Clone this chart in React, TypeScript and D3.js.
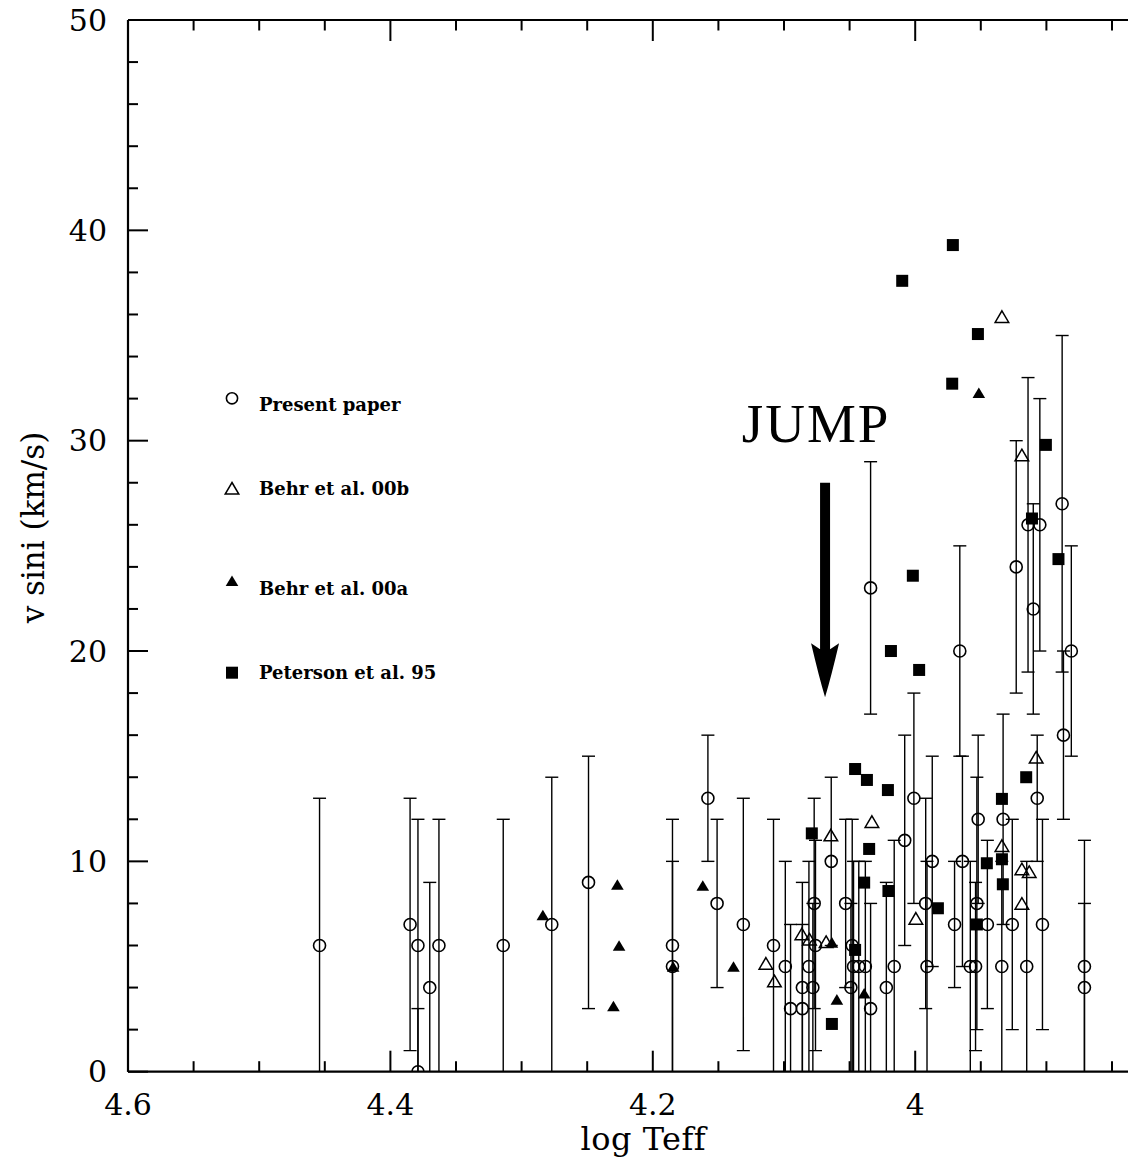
import React from "react";
import * as d3 from "d3";

// ---------- data ----------
// Present paper: log Teff, v sini, symmetric error (km/s)
const presentTeff = [4.454, 4.385, 4.379, 4.379, 4.370, 4.363, 4.314, 4.277, 4.249, 4.185, 4.185, 4.158, 4.151, 4.131, 4.108, 4.099, 4.095, 4.086, 4.086, 4.081, 4.078, 4.077, 4.076, 4.064, 4.053, 4.048, 4.049, 4.047, 4.043, 4.038, 4.034, 4.034, 4.022, 4.016, 4.008, 4.001, 3.992, 3.991, 3.987, 3.970, 3.966, 3.964, 3.958, 3.954, 3.953, 3.952, 3.945, 3.934, 3.933, 3.926, 3.923, 3.915, 3.914, 3.910, 3.907, 3.905, 3.903, 3.888, 3.887, 3.881, 3.871, 3.871];
const presentVsini = [6, 7, 6, 0, 4, 6, 6, 7, 9, 6, 5, 13, 8, 7, 6, 5, 3, 4, 3, 5, 4, 8, 6, 10, 8, 6, 4, 5, 5, 5, 23, 3, 4, 5, 11, 13, 8, 5, 10, 7, 20, 10, 5, 5, 8, 12, 7, 5, 12, 7, 24, 5, 26, 22, 13, 26, 7, 27, 16, 20, 5, 4];
const presentErr = [7, 6, 6, 3, 5, 6, 6, 7, 6, 6, 5, 3, 4, 6, 6, 5, 4, 5, 4, 5, 4, 5, 5, 4, 4, 6, 4, 5, 5, 5, 6, 5, 5, 6, 5, 5, 5, 5, 5, 3, 5, 5, 5, 4, 6, 4, 4, 5, 5, 5, 6, 5, 7, 5, 3, 6, 5, 8, 4, 5, 6, 4];

// Behr et al. 00b (open triangles)
const behrBTeff = [4.1138, 4.1073, 4.0864, 4.0806, 4.0643, 4.0679, 4.0330, 3.9995, 3.9339, 3.9187, 3.9339, 3.9187, 3.9131, 3.9187, 3.9078];
const behrBVsini = [5.15, 4.31, 6.55, 6.3, 11.25, 6.18, 11.89, 7.29, 35.9, 29.32, 10.75, 9.64, 9.51, 8.0, 14.95];

// Behr et al. 00a (filled triangles)
const behrATeff = [4.2838, 4.2270, 4.2257, 4.2300, 4.1845, 4.1619, 4.1385, 4.0635, 4.0597, 4.0389, 3.9515];
const behrAVsini = [7.45, 8.9, 6.0, 3.12, 5.0, 8.85, 5.0, 6.15, 3.44, 3.73, 32.28];

// Peterson et al. 95 (filled squares)
const petersonTeff = [3.9713, 4.0099, 3.9522, 3.9718, 3.9004, 3.9110, 3.8908, 4.0018, 4.0185, 3.9970, 4.0458, 4.0368, 4.0208, 4.0351, 4.0389, 4.0204, 3.9827, 3.9530, 3.9454, 3.9339, 3.9339, 3.9332, 3.9154, 4.0788, 4.0635, 4.0458];
const petersonVsini = [39.3, 37.6, 35.07, 32.71, 29.8, 26.3, 24.37, 23.58, 20.0, 19.1, 14.39, 13.87, 13.39, 10.59, 8.99, 8.59, 7.77, 7.0, 9.91, 12.97, 10.1, 8.91, 14.0, 11.33, 2.27, 5.79];

const xMajorTicks = [4.6, 4.4, 4.2, 4.0];
const xTickLabels = ["4.6", "4.4", "4.2", "4"];
const yMajorTicks = [0, 10, 20, 30, 40, 50];
const yTickLabels = ["0", "10", "20", "30", "40", "50"];

const legendLabels = ["Present paper", "Behr et al. 00b", "Behr et al. 00a", "Peterson et al. 95"];

// JUMP annotation (data coordinates)
const jumpText = "JUMP";
const jumpX = 4.0755;
const jumpY = 29.94;
const arrowX = 4.0687;
const arrowTop = 28.0;
const arrowTip = 17.8;

// ---------- layout ----------
const W = 1128;
const H = 1161;
const LEFT = 128;
const TOP = 20;
const BOTTOM = 1071.7;
const RIGHT = 1177.6;

const serif = "'DejaVu Serif', serif";

export default function App() {
  const x = d3.scaleLinear().domain([4.6, 3.8]).range([LEFT, RIGHT]);
  const y = d3.scaleLinear().domain([0, 50]).range([BOTTOM, TOP]);

  const xMinor = d3.range(0, 17).map((i) => +(4.6 - 0.05 * i).toFixed(2));
  const yMinor = d3.range(0, 26).map((i) => i * 2);

  const present = presentTeff.map((t, i) => ({ t, v: presentVsini[i], e: presentErr[i] }));
  const behrB = behrBTeff.map((t, i) => ({ t, v: behrBVsini[i] }));
  const behrA = behrATeff.map((t, i) => ({ t, v: behrAVsini[i] }));
  const peterson = petersonTeff.map((t, i) => ({ t, v: petersonVsini[i] }));

  const ink = "#000";
  const cap = 6.5;
  const openTri = "M0,-5.8L6.8,5.8L-6.8,5.8Z";
  const fillTri = "M0,-5.3L6.3,5.3L-6.3,5.3Z";
  const sq = 6;

  const ax = x(arrowX);
  const aTop = y(arrowTop);
  const aTip = y(arrowTip);
  const headLen = 54;
  const headHalf = 14;
  const shaftHalf = 5;

  const legendX = 232;
  const legendTextX = 259;
  const legendMarkerY = [398.3, 488.3, 580.7, 672.7];
  const legendTextY = [410.7, 495, 595, 679.3];

  return (
    <div style={{ position: "absolute", left: 0, top: 0 }}>
      <svg width={W} height={H} viewBox={`0 0 ${W} ${H}`} style={{ display: "block", background: "#fff" }}>
        <defs>
          <clipPath id="plotClip">
            <rect x={LEFT} y={TOP} width={RIGHT - LEFT} height={BOTTOM - TOP} />
          </clipPath>
        </defs>
        <rect x={0} y={0} width={W} height={H} fill="#fff" />

        {/* axes frame */}
        <g stroke={ink} strokeWidth={2.2} fill="none">
          <line x1={LEFT} y1={BOTTOM} x2={W} y2={BOTTOM} />
          <line x1={LEFT} y1={TOP} x2={W} y2={TOP} />
          <line x1={LEFT} y1={TOP} x2={LEFT} y2={BOTTOM} />
        </g>

        {/* ticks */}
        <g stroke={ink} strokeWidth={2}>
          {xMinor.map((v, i) => {
            const len = i % 4 === 0 ? 21 : 10.5;
            const px = x(v);
            return (
              <g key={"xt" + i}>
                <line x1={px} y1={BOTTOM} x2={px} y2={BOTTOM - len} />
                <line x1={px} y1={TOP} x2={px} y2={TOP + len} />
              </g>
            );
          })}
          {yMinor.map((v, i) => {
            const len = i % 5 === 0 ? 20 : 10;
            const py = y(v);
            return <line key={"yt" + i} x1={LEFT} y1={py} x2={LEFT + len} y2={py} />;
          })}
        </g>

        {/* tick labels */}
        <g fontFamily={serif} fontSize={30} fill={ink}>
          {xMajorTicks.map((v, i) => (
            <text key={"xl" + i} x={x(v)} y={1115} textAnchor="middle">
              {xTickLabels[i]}
            </text>
          ))}
          {yMajorTicks.map((v, i) => (
            <text key={"yl" + i} x={107} y={y(v)} textAnchor="end" dominantBaseline="central">
              {yTickLabels[i]}
            </text>
          ))}
        </g>

        {/* axis titles */}
        <text x={643.3} y={1150} textAnchor="middle" fontFamily={serif} fontSize={32} letterSpacing={0.5} fill={ink}>
          log Teff
        </text>
        <text
          transform={`translate(43.5,527.5) rotate(-90)`}
          textAnchor="middle"
          fontFamily={serif}
          fontSize={31}
          fill={ink}
        >
          v sini (km/s)
        </text>

        {/* data */}
        <g clipPath="url(#plotClip)">
          <g stroke={ink} strokeWidth={1.4} fill="none">
            {present.map((d, i) => {
              const px = x(d.t);
              const y1 = y(d.v - d.e);
              const y2 = y(d.v + d.e);
              return (
                <g key={"eb" + i}>
                  <line x1={px} y1={y1} x2={px} y2={y2} />
                  <line x1={px - cap} y1={y1} x2={px + cap} y2={y1} />
                  <line x1={px - cap} y1={y2} x2={px + cap} y2={y2} />
                </g>
              );
            })}
          </g>
          <g stroke={ink} strokeWidth={1.6} fill="none">
            {present.map((d, i) => (
              <circle key={"c" + i} cx={x(d.t)} cy={y(d.v)} r={6} />
            ))}
          </g>
          <g stroke={ink} strokeWidth={1.5} fill="none">
            {behrB.map((d, i) => (
              <path key={"ob" + i} d={openTri} transform={`translate(${x(d.t)},${y(d.v)})`} />
            ))}
          </g>
          <g fill={ink}>
            {behrA.map((d, i) => (
              <path key={"fa" + i} d={fillTri} transform={`translate(${x(d.t)},${y(d.v)})`} />
            ))}
          </g>
          <g fill={ink}>
            {peterson.map((d, i) => (
              <rect key={"sq" + i} x={x(d.t) - sq} y={y(d.v) - sq} width={sq * 2} height={sq * 2} />
            ))}
          </g>
        </g>

        {/* JUMP annotation */}
        <text
          x={x(jumpX)}
          y={y(jumpY)}
          textAnchor="middle"
          fontFamily="'Liberation Serif', serif"
          fontSize={55}
          letterSpacing={2}
          fill={ink}
        >
          {jumpText}
        </text>
        <path
          d={`M${ax - shaftHalf},${aTop} L${ax + shaftHalf},${aTop} L${ax + shaftHalf},${aTip - headLen + 6}
              L${ax + headHalf},${aTip - headLen} Q${ax + 6},${aTip - 20} ${ax},${aTip}
              Q${ax - 6},${aTip - 20} ${ax - headHalf},${aTip - headLen}
              L${ax - shaftHalf},${aTip - headLen + 6} Z`}
          fill={ink}
        />

        {/* legend */}
        <g>
          <circle cx={legendX} cy={legendMarkerY[0]} r={5.6} fill="none" stroke={ink} strokeWidth={1.6} />
          <path d={openTri} transform={`translate(${legendX},${legendMarkerY[1]})`} fill="none" stroke={ink} strokeWidth={1.5} />
          <path d={fillTri} transform={`translate(${legendX},${legendMarkerY[2]})`} fill={ink} />
          <rect x={legendX - sq} y={legendMarkerY[3] - sq} width={sq * 2} height={sq * 2} fill={ink} />
          {legendLabels.map((l, i) => (
            <text
              key={"lg" + i}
              x={legendTextX}
              y={legendTextY[i]}
              fontFamily={serif}
              fontWeight="bold"
              fontSize={18}
              fill={ink}
            >
              {l}
            </text>
          ))}
        </g>
      </svg>
    </div>
  );
}
